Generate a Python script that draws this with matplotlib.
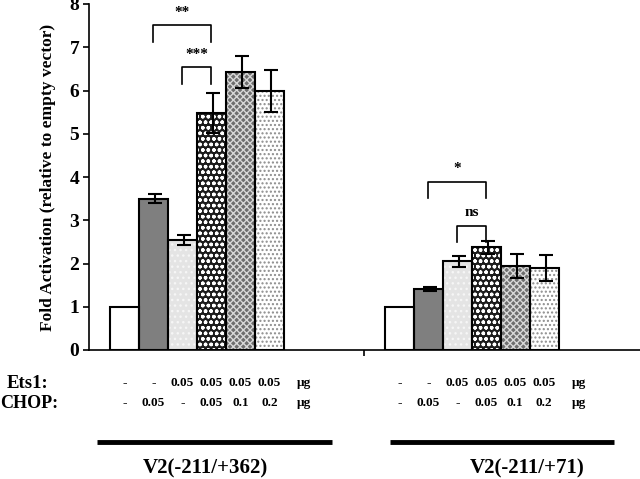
import matplotlib
matplotlib.use("Agg")
import matplotlib.pyplot as plt
import numpy as np

# Daten
grp1_vals = [1.0, 3.50, 2.54, 5.48, 6.43, 5.99]
grp1_err = [0.0, 0.10, 0.12, 0.47, 0.37, 0.49]
grp2_vals = [1.0, 1.41, 2.05, 2.37, 1.95, 1.90]
grp2_err = [0.0, 0.04, 0.12, 0.14, 0.28, 0.30]
group_names = ["V2(-211/+362)", "V2(-211/+71)"]
ets1_row = ["-", "-", "0.05", "0.05", "0.05", "0.05"]
chop_row = ["-", "0.05", "-", "0.05", "0.1", "0.2"]
# (Gruppe, Balken a, Balken b, Hoehe, Text)
brackets = [
    (0, 1, 3, 7.51, "**"),
    (0, 2, 3, 6.54, "***"),
    (1, 1, 3, 3.89, "*"),
    (1, 2, 3, 2.87, "ns"),
]

# Muster je Balken: (Flaeche, Schraffur, Schraffurfarbe)
styles = [
    ("white", None, "black"),
    ("#7f7f7f", None, "black"),
    ("#e4e4e4", "...", "#f6f6f6"),
    ("#1c1c1c", "ooo", "white"),
    ("#6e6e6e", "xxxxx", "#d8d8d8"),
    ("white", "....", "#8c8c8c"),
]

plt.rcParams["font.family"] = ["Liberation Serif", "DejaVu Serif"]
plt.rcParams["font.weight"] = "bold"
plt.rcParams["hatch.linewidth"] = 1.0

fig = plt.figure(figsize=(6.4, 4.79), dpi=100)
ax = fig.add_axes([89 / 640, 1 - 350 / 479, 1 - 89 / 640, (350 - 4) / 479])

starts = [0.0, 9.48]
line_span = [(-0.95, 7.16), (-0.32, 7.42)]
label_pos = [2.78, 4.40]
all_vals = [grp1_vals, grp2_vals]
all_err = [grp1_err, grp2_err]
for g in range(2):
    x = starts[g] + np.arange(6)
    for i in range(6):
        face, hatch, hcol = styles[i]
        ax.bar(x[i], all_vals[g][i], width=1.0, color=face, hatch=hatch,
               edgecolor=hcol, linewidth=0, zorder=2)
        ax.bar(x[i], all_vals[g][i], width=1.0, fill=False,
               edgecolor="black", linewidth=1.5, zorder=3)
        if all_err[g][i] > 0:
            ax.errorbar(x[i] + 0.05, all_vals[g][i], yerr=all_err[g][i],
                        fmt="none", ecolor="black", elinewidth=1.5,
                        capsize=5, capthick=1.5, zorder=4)
    # Beschriftungen unter der Achse
    for i in range(6):
        ax.text(x[i], -0.77, ets1_row[i], ha="center", va="center",
                fontsize=9.5, fontweight="bold", clip_on=False)
        ax.text(x[i], -1.23, chop_row[i], ha="center", va="center",
                fontsize=9.5, fontweight="bold", clip_on=False)
    ax.text(x[5] + 1.2, -0.77, "µg", ha="center", va="center",
            fontsize=9.5, fontweight="bold", clip_on=False)
    ax.text(x[5] + 1.2, -1.23, "µg", ha="center", va="center",
            fontsize=9.5, fontweight="bold", clip_on=False)
    ax.plot([x[0] + line_span[g][0], x[0] + line_span[g][1]], [-2.13, -2.13],
            color="black", linewidth=3.5, clip_on=False, solid_capstyle="butt")
    ax.text(x[0] + label_pos[g], -2.75, group_names[g],
            ha="center", va="center", fontsize=15, fontweight="bold",
            clip_on=False)

for g, a, b, h, lab in brackets:
    xa = starts[g] + a
    xb = starts[g] + b
    ax.plot([xa, xa, xb, xb], [h - 0.38, h, h, h - 0.38], color="black",
            linewidth=1.2, zorder=5)
    ax.text((xa + xb) / 2, h + 0.15, lab, ha="center", va="bottom",
            fontsize=11, fontweight="bold")

ax.set_xlim(-1.22, 17.78)
ax.set_ylim(0, 8)
ax.set_yticks(range(0, 9))
ax.set_xticks([8.26])
ax.set_xticklabels([""])
ax.tick_params(axis="y", direction="out", length=4, width=1.2,
               labelsize=14, pad=3)
ax.tick_params(axis="x", direction="out", length=4, width=1.2)
for lbl in ax.get_yticklabels():
    lbl.set_fontweight("bold")
ax.spines["top"].set_visible(False)
ax.spines["right"].set_visible(False)
ax.spines["left"].set_linewidth(1.2)
ax.spines["bottom"].set_linewidth(1.2)
ax.set_ylabel("Fold Activation (relative to empty vector)", fontsize=12.5,
              fontweight="bold", labelpad=10)

fig.text(7 / 640, 1 - 383 / 479, "Ets1:", ha="left", va="center",
         fontsize=13.5, fontweight="bold")
fig.text(0 / 640, 1 - 404 / 479, "CHOP:", ha="left", va="center",
         fontsize=13, fontweight="bold")

fig.savefig("out.png", dpi=100)
